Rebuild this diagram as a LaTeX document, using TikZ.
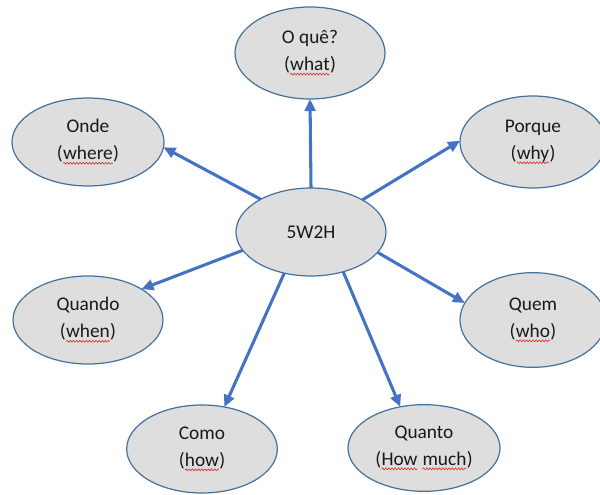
\documentclass[tikz,border=0pt]{standalone}
\usepackage{fontspec}
\setmainfont{Carlito}
\usetikzlibrary{shapes.geometric,arrows.meta,decorations.pathmorphing}
\definecolor{bubfill}{RGB}{222,222,222}
\definecolor{bubline}{RGB}{65,113,156}
\definecolor{arrblue}{RGB}{68,114,196}
\definecolor{squig}{RGB}{230,50,50}
\tikzset{
  wordbox/.style={shape=rectangle,draw=none,fill=none,minimum width=0pt,minimum height=0pt,inner sep=0pt,outer sep=0pt,align=left},
  bubble/.style={ellipse,draw=bubline,fill=bubfill,line width=0.9pt,inner sep=0pt,outer sep=0pt,align=center,text=black!90,font=\fontsize{14.5}{20}\selectfont},
  arr/.style={draw=arrblue,line width=2.3pt,-{Triangle[length=9pt,width=8pt]}}
}
\newcommand\sq[1]{\tikz[baseline=(w.base),x=1pt,y=1pt]{\node[wordbox](w){#1};\draw[squig,line width=0.5pt,decorate,decoration={snake,amplitude=0.7pt,segment length=2.4pt}] ([yshift=-2.8pt]w.base west) -- ([yshift=-2.8pt]w.base east);}}
\begin{document}
\begin{tikzpicture}[x=0.75pt,y=-0.75pt]
\useasboundingbox (0,0) rectangle (600,495);
\node[bubble,minimum width=112.5pt,minimum height=69pt] (what) at (310,53) {O quê?\\(\sq{what})};
\node[bubble,minimum width=112.5pt,minimum height=66pt] (c) at (311,232) {5W2H};
\node[bubble,minimum width=114pt,minimum height=66pt] (onde) at (88,142) {Onde\\(\sq{where})};
\node[bubble,minimum width=109.5pt,minimum height=69pt] (porque) at (533,142) {Porque\\(\sq{why})};
\node[bubble,minimum width=112.5pt,minimum height=66pt] (quando) at (88,320) {Quando\\(\sq{when})};
\node[bubble,minimum width=109.5pt,minimum height=71pt] (quem) at (533,320) {Quem\\(\sq{who})};
\node[bubble,minimum width=113pt,minimum height=66pt] (como) at (202,449) {Como\\(\sq{how})};
\node[bubble,minimum width=114pt,minimum height=65pt] (quanto) at (424,448) {Quanto\\(\sq{How} \sq{much})};
\draw[arr] (c.90) -- (what.270);
\draw[arr] (c.147) -- (onde.-4);
\draw[arr] (c.32) -- (porque.179);
\draw[arr] (c.195) -- (quando.30);
\draw[arr] (c.-17) -- (quem.166);
\draw[arr] (c.237) -- (como.62);
\draw[arr] (c.309) -- (quanto.120);
\end{tikzpicture}
\end{document}
